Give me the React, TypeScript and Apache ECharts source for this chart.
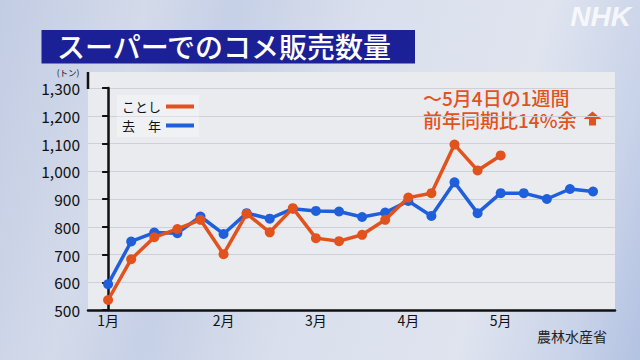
import React, { useEffect, useRef } from "react";
import * as echarts from "echarts";

const monthTicks = [0, 5, 9, 13, 17];
const monthLabels = ["1月", "2月", "3月", "4月", "5月"];

const thisYearName = "ことし";
const lastYearName = "去　年";

const thisYear = [536, 683, 762, 792, 825, 701, 847, 780, 867, 759, 748, 771, 825, 905, 921, 1096, 1003, 1057];
const lastYear = [593, 747, 779, 777, 837, 774, 849, 829, 865, 857, 855, 835, 851, 893, 839, 960, 849, 921, 921, 900, 936, 927];

const titleText = "スーパーでのコメ販売数量";
const unitText = "(トン)";
const noteLines = ["～5月4日の1週間", "前年同期比14%余"];
const sourceText = "農林水産省";

const FONT = '"Noto Sans CJK JP", "Noto Sans", sans-serif';
const ORANGE = "#e2521d";
const BLUE = "#1f5fdb";

const fmt = (v: number) => String(v).replace(/\B(?=(\d{3})+(?!\d))/g, ",");

export default function App() {
  const ref = useRef<HTMLDivElement>(null);
  useEffect(() => {
    if (!ref.current) return;
    const chart = echarts.init(ref.current, null, { renderer: "svg" });
    chart.setOption({
      animation: false,
      textStyle: { fontFamily: FONT },
      grid: {
        left: 88,
        right: 25,
        top: 88,
        bottom: 50,
        show: false,
      },
      legend: {
        data: [thisYearName, lastYearName],
        orient: "vertical",
        align: "right",
        left: 117,
        top: 95,
        padding: 5,
        itemGap: 6,
        icon: "rect",
        itemWidth: 28,
        itemHeight: 4,
        backgroundColor: "rgba(255,255,255,0.3)",
        textStyle: { fontFamily: FONT, fontSize: 13, color: "#111" },
      },
      xAxis: {
        type: "value",
        min: -0.87,
        max: 21.95,
        axisLine: { show: true, lineStyle: { color: "#111", width: 2.5 } },
        axisTick: { show: false },
        splitLine: { show: false },
        axisLabel: {
          customValues: monthTicks,
          formatter: (v: number) => monthLabels[monthTicks.indexOf(v)] ?? "",
          color: "#111",
          fontSize: 14,
          fontFamily: FONT,
          margin: 3,
        },
      },
      yAxis: {
        type: "value",
        min: 500,
        max: 1300,
        interval: 100,
        axisLine: { show: true, lineStyle: { color: "#111", width: 2.5 } },
        axisTick: { show: true, length: 6, lineStyle: { color: "#111", width: 2 } },
        splitLine: { show: true, lineStyle: { color: "#cdd0d6", width: 1 } },
        axisLabel: {
          formatter: (v: number) => fmt(v),
          color: "#111",
          fontSize: 15.5,
          lineHeight: 15,
          fontFamily: FONT,
          margin: 8,
        },
      },
      series: [
        {
          name: lastYearName,
          type: "line",
          data: lastYear.map((v, i) => [i, v]),
          symbol: "circle",
          symbolSize: 10,
          color: BLUE,
          lineStyle: { width: 3.5, color: BLUE },
          itemStyle: { color: BLUE },
          z: 2,
        },
        {
          name: thisYearName,
          type: "line",
          data: thisYear.map((v, i) => [i, v]),
          symbol: "circle",
          symbolSize: 10,
          color: ORANGE,
          lineStyle: { width: 3.5, color: ORANGE },
          itemStyle: { color: ORANGE },
          z: 3,
        },
      ],
      graphic: [
        {
          type: "rect",
          z: -10,
          shape: { x: 88, y: 72, width: 527, height: 238 },
          style: { fill: "#e9ebef" },
        },
        {
          type: "line",
          z: 5,
          shape: { x1: 88, y1: 72, x2: 88, y2: 89 },
          style: { stroke: "#111", lineWidth: 2.5 },
        },
        {
          type: "rect",
          shape: { x: 41.5, y: 30, width: 373.5, height: 33.5 },
          style: { fill: "#1c2096" },
        },
        {
          type: "text",
          x: 57,
          y: 45.5,
          style: { text: titleText, fill: "#fff", font: `500 28px ${FONT}`, textAlign: "left", textVerticalAlign: "middle" },
        },
        {
          type: "text",
          x: 631,
          y: 16,
          style: {
            text: "NHK",
            fill: "rgba(255,255,255,0.8)",
            font: `italic bold 28px "Liberation Sans", sans-serif`,
            textAlign: "right",
            textVerticalAlign: "middle",
          },
        },
        {
          type: "text",
          x: 68,
          y: 72,
          style: { text: unitText, fill: "#111", font: `8.5px ${FONT}`, textAlign: "center", textVerticalAlign: "middle" },
        },
        {
          type: "text",
          x: 423,
          y: 108,
          style: {
            text: noteLines.join("\n"),
            fill: ORANGE,
            font: `500 19px ${FONT}`,
            lineHeight: 22,
            textAlign: "left",
            textVerticalAlign: "middle",
          },
        },
        {
          type: "polygon",
          shape: {
            points: [
              [592.5, 111.5],
              [601.5, 119],
              [596, 119],
              [596, 125.5],
              [589, 125.5],
              [589, 119],
              [583.5, 119],
            ],
          },
          style: { fill: ORANGE },
        },
        {
          type: "text",
          x: 607,
          y: 336,
          style: { text: sourceText, fill: "#222", font: `14px ${FONT}`, textAlign: "right", textVerticalAlign: "middle" },
        },
      ],
    });
    return () => chart.dispose();
  }, []);
  return (
    <div
      ref={ref}
      style={{
        position: "fixed",
        left: 0,
        top: 0,
        width: 640,
        height: 360,
        background:
          "linear-gradient(105deg, #c2cce3 0%, #d3daea 20%, #c6d0e6 32%, #d9dfec 50%, #dfe4ef 75%, #c9d3e9 90%, #b3c2e2 100%)",
      }}
    />
  );
}
